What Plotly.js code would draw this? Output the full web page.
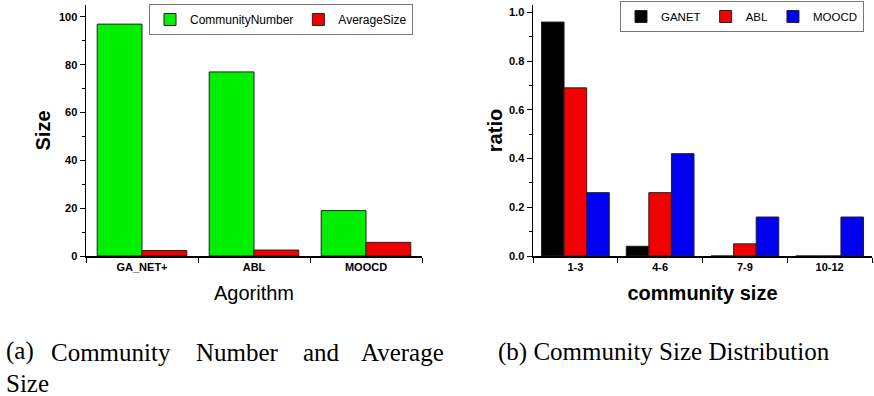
<!DOCTYPE html>
<html>
<head>
<meta charset="utf-8">
<script src="https://cdn.plot.ly/plotly-3.0.1.min.js"></script>
<style>html,body{margin:0;padding:0;background:#fff;}#chart{width:874px;height:396px;}</style>
</head>
<body>
<div id="chart"></div>
<script>
// ---- data ----
const algorithms = ['GA_NET+', 'ABL', 'MOOCD'];
const communityNumber = [97, 77, 19];
const averageSize = [2.3, 2.5, 5.7];

const sizeBins = ['1-3', '4-6', '7-9', '10-12'];
const ganetRatio = [0.96, 0.04, 0, 0];
const ablRatio = [0.69, 0.26, 0.05, 0];
const moocdRatio = [0.26, 0.42, 0.16, 0.16];

const captionA = ['(a)<br>Size', 'Community', 'Number', 'and', 'Average'];
const captionB = '(b) Community Size Distribution';

// ---- styling ----
const W = 874, H = 396;
const outline = {color: '#222', width: 1};
const tickFont = {family: 'Liberation Sans, Arial', size: 11, color: '#000', weight: 'bold'};

const traces = [
  {type: 'bar', name: 'CommunityNumber', x: algorithms, y: communityNumber, xaxis: 'x', yaxis: 'y',
   marker: {color: '#00f000', line: outline}, legend: 'legend'},
  {type: 'bar', name: 'AverageSize', x: algorithms, y: averageSize, xaxis: 'x', yaxis: 'y',
   marker: {color: '#f00000', line: outline}, legend: 'legend'},
  {type: 'bar', name: 'GANET', x: sizeBins, y: ganetRatio, xaxis: 'x2', yaxis: 'y2',
   marker: {color: '#000000', line: outline}, legend: 'legend2'},
  {type: 'bar', name: 'ABL', x: sizeBins, y: ablRatio, xaxis: 'x2', yaxis: 'y2',
   marker: {color: '#f00000', line: outline}, legend: 'legend2'},
  {type: 'bar', name: 'MOOCD', x: sizeBins, y: moocdRatio, xaxis: 'x2', yaxis: 'y2',
   marker: {color: '#0000f0', line: outline}, legend: 'legend2'}
];

const yDom = [1 - 256 / H, 1 - 5 / H];

function xAx(domain, title, bold, anchor) {
  return {
    domain: domain, type: 'category', anchor: anchor, automargin: false,
    showline: true, linecolor: '#000', linewidth: 1.5, mirror: false,
    ticks: 'outside', tickson: 'boundaries', ticklen: 5, tickcolor: '#000', tickwidth: 1,
    tickfont: tickFont, showgrid: false, zeroline: false, fixedrange: true,
    title: {text: title, standoff: 14,
      font: {family: 'Liberation Sans, Arial', size: 20, color: '#000', weight: bold ? 'bold' : 'normal'}}
  };
}
function yAx(range, dtick, minor, fmt, title, standoff, anchor) {
  return {
    domain: yDom, range: range, dtick: dtick, tick0: 0, tickformat: fmt, anchor: anchor, automargin: false,
    showline: true, linecolor: '#000', linewidth: 1.5, mirror: false,
    ticks: 'outside', ticklen: 5, tickcolor: '#000', tickwidth: 1,
    minor: {dtick: minor, ticks: 'outside', ticklen: 3, tickcolor: '#000', tickwidth: 1, showgrid: false},
    tickfont: tickFont, showgrid: false, zeroline: false, fixedrange: true,
    title: {text: title, standoff: standoff,
      font: {family: 'Liberation Sans, Arial', size: 20, color: '#000', weight: 'bold'}}
  };
}

const xa = xAx([86 / W, 422 / W], 'Agorithm', false, 'y');
const xb = xAx([533 / W, 872 / W], 'community size', true, 'y2');
const ya = yAx([0, 105], 20, 10, 'd', 'Size', 3, 'x');
const yb = yAx([0, 1.03], 0.2, 0.1, '.1f', 'ratio', 1, 'x2');

const capSize = 25;
const capFont = {family: 'Liberation Serif, Times New Roman, serif', size: capSize, color: '#000'};
const capAX = [5, 50, 195, 302, 360];
const annotations = [];
captionA.forEach((w, i) => annotations.push({
  text: w, xref: 'paper', yref: 'paper', x: capAX[i] / W, y: 1 - (i === 0 ? 336 : 352) / H,
  xanchor: 'left', yanchor: i === 0 ? 'top' : 'middle', align: 'left',
  showarrow: false, font: capFont, borderpad: 0
}));
annotations.push({text: captionB, xref: 'paper', yref: 'paper', x: 497 / W, y: 1 - 352 / H,
  xanchor: 'left', yanchor: 'middle', showarrow: false, font: capFont, borderpad: 0});

const legendBase = {
  orientation: 'h', xanchor: 'right', yanchor: 'top',
  bgcolor: '#fff', bordercolor: '#777', borderwidth: 1,
  font: {family: 'Liberation Sans, Arial', size: 12, color: '#000'},
  itemwidth: 30, tracegroupgap: 0, itemclick: false, itemdoubleclick: false
};

const layout = {
  width: W, height: H,
  margin: {l: 0, r: 0, t: 0, b: 0, autoexpand: false},
  paper_bgcolor: '#fff', plot_bgcolor: '#fff',
  barmode: 'group', bargap: 0.2, bargroupgap: 0,
  showlegend: true,
  xaxis: xa, yaxis: ya, xaxis2: xb, yaxis2: yb,
  legend: Object.assign({}, legendBase, {x: 413 / W, y: 1 - 4 / H}),
  legend2: Object.assign({}, legendBase, {x: 864 / W, y: 1 - 1 / H, font: {family: 'Liberation Sans, Arial', size: 11.5, color: '#000'}}),
  annotations: annotations
};

Plotly.newPlot('chart', traces, layout, {displayModeBar: false, staticPlot: true});
</script>
</body>
</html>
